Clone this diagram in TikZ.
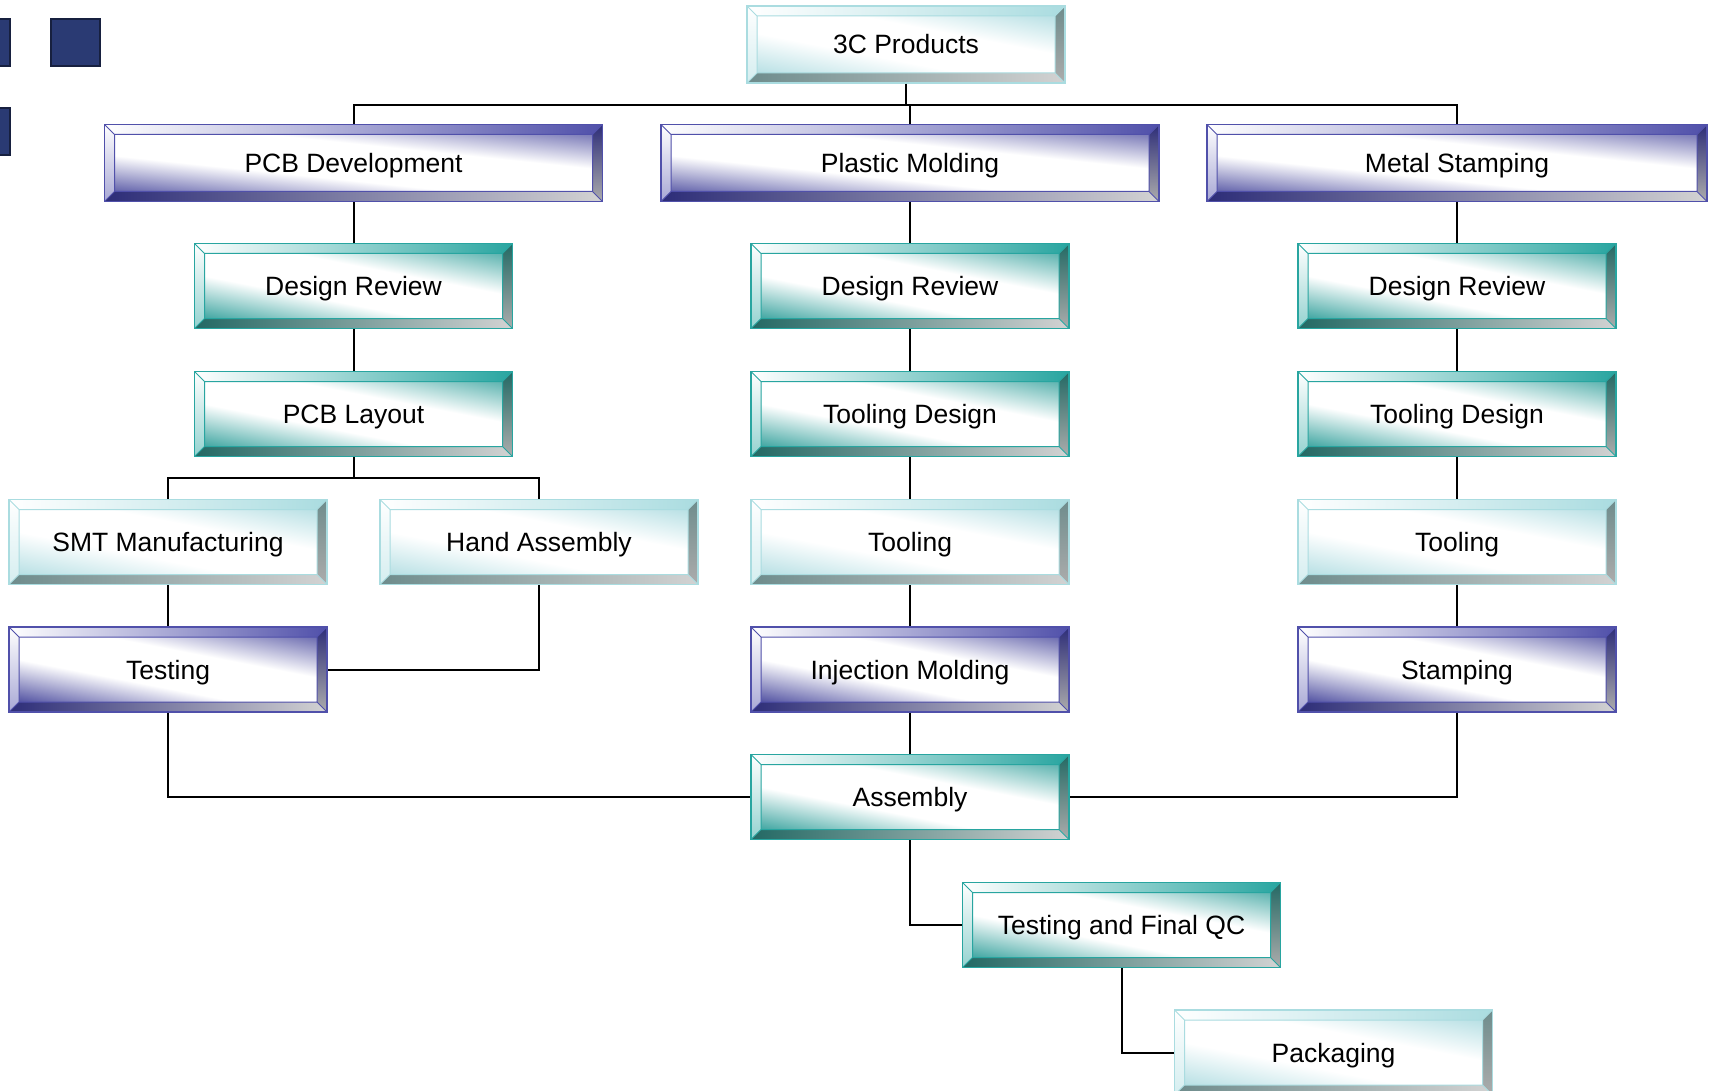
\documentclass[tikz,border=0pt]{standalone}
\usepackage{fontspec}
\setmainfont{Liberation Sans}
\definecolor{tealmain}{RGB}{40,165,160}
\definecolor{tealdark}{RGB}{35,105,100}
\definecolor{tealface}{RGB}{40,155,150}
\definecolor{navymain}{RGB}{80,80,170}
\definecolor{navydark}{RGB}{45,45,120}
\definecolor{navyface}{RGB}{60,60,150}
\definecolor{cyanmain}{RGB}{170,220,224}
\definecolor{cyandark}{RGB}{110,140,140}
\definecolor{cyanface}{RGB}{175,220,225}
\definecolor{squarenavy}{RGB}{42,58,115}
\pgfdeclareverticalshading{tealshade}{100bp}{color(0bp)=(tealface); color(18bp)=(tealface); color(41bp)=(white); color(60bp)=(white); color(82bp)=(tealface!85); color(100bp)=(tealface!85)}
\pgfdeclareverticalshading{navyshade}{100bp}{color(0bp)=(navyface); color(18bp)=(navyface); color(41bp)=(white); color(60bp)=(white); color(82bp)=(navyface!85); color(100bp)=(navyface!85)}
\pgfdeclareverticalshading{cyanshade}{100bp}{color(0bp)=(cyanface); color(18bp)=(cyanface); color(41bp)=(white); color(60bp)=(white); color(82bp)=(cyanface); color(100bp)=(cyanface)}
\newcommand\bevelfill[3]{%
  \coordinate (NW) at (path picture bounding box.north west);
  \coordinate (NE) at (path picture bounding box.north east);
  \coordinate (SE) at (path picture bounding box.south east);
  \coordinate (SW) at (path picture bounding box.south west);
  \coordinate (nw) at ([shift={(10pt,-10pt)}]NW);
  \coordinate (ne) at ([shift={(-10pt,-10pt)}]NE);
  \coordinate (se) at ([shift={(-10pt,10pt)}]SE);
  \coordinate (sw) at ([shift={(10pt,10pt)}]SW);
  \shade[shading=#3, shading angle=\faceangle] (nw) rectangle (se);
  \shade[left color=white, right color=#1] (NW) -- (NE) -- (ne) -- (nw) -- cycle;
  \shade[top color=white, bottom color=#1!50] (NW) -- (nw) -- (sw) -- (SW) -- cycle;
  \shade[top color=#2, bottom color=gray!65] (NE) -- (SE) -- (se) -- (ne) -- cycle;
  \shade[left color=#2, right color=gray!35] (SW) -- (sw) -- (se) -- (SE) -- cycle;
  \draw[#1, line width=1pt] (nw) rectangle (se) (NW) -- (nw) (NE) -- (ne) (SE) -- (se) (SW) -- (sw);
}
\begin{document}
\begin{tikzpicture}[x=1pt, y=-1pt,
  face angle/.store in=\faceangle,
  bevelbox/.style={rectangle, inner sep=0pt, line width=1.2pt, minimum width=318pt, minimum height=85pt, text height=19pt, text depth=0pt, face angle=-11, font=\fontsize{26.5}{30}\selectfont},
  tealbox/.style={bevelbox, draw=tealmain, path picture={\bevelfill{tealmain}{tealdark}{tealshade}}},
  navybox/.style={bevelbox, draw=navymain, path picture={\bevelfill{navymain}{navydark}{navyshade}}},
  cyanbox/.style={bevelbox, draw=cyanmain, path picture={\bevelfill{cyanmain}{cyandark}{cyanshade}}},
  widebox/.style={minimum width=498pt, minimum height=77pt, face angle=-6},
  link/.style={draw=black, line width=2pt},
  square/.style={fill=squarenavy, draw=squarenavy!55!black, line width=1.5pt}]
\useasboundingbox (0,0) rectangle (1712,1091);
\clip (0,0) rectangle (1712,1091);
\path[square] (51,19) rectangle (100,66);
\path[square] (-39,19) rectangle (10,66);
\path[square] (-39,108) rectangle (10,155);
\node[cyanbox, minimum height=77pt] (products) at (906,44.5) {3C Products};
\node[navybox, widebox] (pcbdev) at (353.5,163) {PCB Development};
\node[navybox, widebox] (plastic) at (910,163) {Plastic Molding};
\node[navybox, widebox, minimum width=500pt] (metal) at (1457,163) {Metal Stamping};
\node[tealbox] (pcbreview) at (353.5,286) {Design Review};
\node[tealbox] (plasticreview) at (910,286) {Design Review};
\node[tealbox] (metalreview) at (1457,286) {Design Review};
\node[tealbox] (layout) at (353.5,414) {PCB Layout};
\node[tealbox] (plastictooldesign) at (910,414) {Tooling Design};
\node[tealbox] (metaltooldesign) at (1457,414) {Tooling Design};
\node[cyanbox] (smt) at (168,542) {SMT Manufacturing};
\node[cyanbox] (hand) at (539,542) {Hand Assembly};
\node[cyanbox] (plastictooling) at (910,542) {Tooling};
\node[cyanbox] (metaltooling) at (1457,542) {Tooling};
\node[navybox] (pcbtest) at (168,669.5) {Testing};
\node[navybox] (injection) at (910,669.5) {Injection Molding};
\node[navybox] (stamping) at (1457,669.5) {Stamping};
\node[tealbox] (assembly) at (910,797) {Assembly};
\node[tealbox] (finalqc) at (1121.5,925) {Testing and Final QC};
\node[cyanbox] (packaging) at (1333.5,1052.5) {Packaging};
\coordinate (topbus) at (0,105);
\coordinate (pcbbus) at (0,478);
\draw[link] (products.south) -- (products.south |- topbus);
\draw[link] (pcbdev.north) -- (pcbdev.north |- topbus) -- (metal.north |- topbus) -- (metal.north);
\draw[link] (plastic.north) -- (plastic.north |- topbus);
\draw[link] (layout.south) -- (layout.south |- pcbbus);
\draw[link] (smt.north) -- (smt.north |- pcbbus) -- (hand.north |- pcbbus) -- (hand.north);
\foreach \a/\b in {pcbdev/pcbreview, pcbreview/layout, smt/pcbtest,
  plastic/plasticreview, plasticreview/plastictooldesign, plastictooldesign/plastictooling,
  plastictooling/injection, injection/assembly,
  metal/metalreview, metalreview/metaltooldesign, metaltooldesign/metaltooling, metaltooling/stamping}
  \draw[link] (\a) -- (\b);
\draw[link] (hand.south) |- (pcbtest.east);
\draw[link] (pcbtest.south) |- (assembly.west);
\draw[link] (stamping.south) |- (assembly.east);
\draw[link] (assembly.south) |- (finalqc.west);
\draw[link] (finalqc.south) |- (packaging.west);
\end{tikzpicture}
\end{document}
